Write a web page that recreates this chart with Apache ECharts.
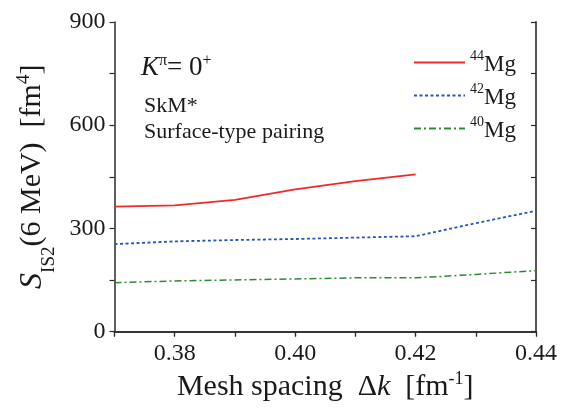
<!DOCTYPE html>
<html>
<head>
<meta charset="utf-8">
<script src="https://cdn.jsdelivr.net/npm/echarts@6/dist/echarts.min.js"></script>
<style>
  html, body { margin: 0; padding: 0; background: #fff; }
  #chart { width: 566px; height: 411px; }
</style>
</head>
<body>
<div id="chart"></div>
<script>
// Mesh spacing Δk [fm^-1]
var meshSpacing = [0.37, 0.38, 0.39, 0.40, 0.41, 0.42, 0.43, 0.44];
// S_IS2(6 MeV) [fm^4] for each nucleus
var mg44 = [363, 367, 383, 413, 437, 457];
var mg42 = [254, 262, 266, 269, 273, 277, 315, 351];
var mg40 = [142, 147, 150, 153, 156, 156, 166, 177];
var seriesNames = ['44Mg', '42Mg', '40Mg'];
var massNumbers = ['44', '42', '40'];

var FONT = '"Liberation Serif", "DejaVu Serif", serif';
var AXIS = '#2a2a2a';

function pairs(vals) {
  return vals.map(function (v, i) { return [meshSpacing[i], v]; });
}

var chart = echarts.init(document.getElementById('chart'), null, { renderer: 'canvas' });

var option = {
  backgroundColor: '#fff',
  animation: false,
  grid: { left: 114.5, right: 30, top: 22, bottom: 79.5, containLabel: false, outerBoundsMode: 'none' },
  legend: {
    orient: 'vertical',
    left: 408,
    top: 44,
    itemWidth: 51,
    itemHeight: 14,
    itemGap: 6,
    data: seriesNames,
    itemStyle: { opacity: 0, borderWidth: 0 },
    formatter: function (name) {
      var idx = seriesNames.indexOf(name);
      return '{sup|' + massNumbers[idx] + '}{t|Mg}';
    },
    textStyle: {
      fontFamily: FONT,
      color: '#1a1a1a',
      rich: {
        sup: { fontFamily: FONT, fontSize: 14, verticalAlign: 'top', lineHeight: 26 },
        t: { fontFamily: FONT, fontSize: 23, lineHeight: 26, padding: [4, 0, 0, 0] }
      }
    }
  },
  xAxis: [{
    type: 'value',
    min: 0.37,
    max: 0.44,
    interval: 0.01,
    splitLine: { show: false },
    axisLine: { show: true, lineStyle: { color: AXIS, width: 1.5 } },
    axisTick: { show: true, inside: false, length: 5, lineStyle: { color: AXIS, width: 1.2 } },
    axisLabel: {
      fontFamily: FONT, fontSize: 24, color: '#1a1a1a', margin: 10,
      formatter: function (v) {
        var k = Math.round(v * 100);
        return (k % 2 === 0) ? (k / 100).toFixed(2) : '';
      }
    },
    name: 'Mesh spacing  Δ{i|k}  [fm{sup|-1}]',
    nameLocation: 'middle',
    nameGap: 38,
    nameTextStyle: {
      fontFamily: FONT, fontSize: 30, color: '#1a1a1a',
      rich: {
        i: { fontFamily: FONT, fontSize: 30, fontStyle: 'italic', lineHeight: 34 },
        sup: { fontFamily: FONT, fontSize: 18, verticalAlign: 'top', lineHeight: 34 }
      }
    }
  }, {
    type: 'value',
    position: 'top',
    min: 0.37,
    max: 0.44,
    interval: 0.01,
    splitLine: { show: false },
    axisLine: { show: true, lineStyle: { color: AXIS, width: 1.5 } },
    axisTick: { show: true, inside: true, length: 5, lineStyle: { color: AXIS, width: 1.2 } },
    axisLabel: { show: false }
  }],
  yAxis: [{
    type: 'value',
    min: 0,
    max: 900,
    interval: 150,
    splitLine: { show: false },
    axisLine: { show: true, lineStyle: { color: AXIS, width: 1.5 } },
    axisTick: { show: true, inside: false, length: 5, lineStyle: { color: AXIS, width: 1.2 } },
    axisLabel: {
      fontFamily: FONT, fontSize: 24, color: '#1a1a1a', margin: 9,
      formatter: function (v) { return (Math.round(v) % 300 === 0) ? String(Math.round(v)) : ''; }
    },
    name: '{i|S}{sub|IS2}(6 MeV)  [fm{sup|4}]',
    nameLocation: 'middle',
    nameGap: 63,
    nameTextStyle: {
      fontFamily: FONT, fontSize: 30, color: '#1a1a1a',
      rich: {
        i: { fontFamily: FONT, fontSize: 32, fontStyle: 'italic', lineHeight: 36 },
        sub: { fontFamily: FONT, fontSize: 19, verticalAlign: 'bottom', lineHeight: 36, padding: [0, 0, -8, 0] },
        sup: { fontFamily: FONT, fontSize: 19, verticalAlign: 'top', lineHeight: 36 }
      }
    }
  }, {
    type: 'value',
    position: 'right',
    min: 0,
    max: 900,
    interval: 150,
    splitLine: { show: false },
    axisLine: { show: true, lineStyle: { color: '#555', width: 2 } },
    axisTick: { show: true, inside: true, length: 5, lineStyle: { color: AXIS, width: 1.2 } },
    axisLabel: { show: false }
  }],
  graphic: [{
    type: 'text',
    left: 141,
    top: 53,
    style: {
      text: '{k|K}{sup|π}{t|= 0}{sup|+}',
      fontFamily: FONT,
      fill: '#1a1a1a',
      rich: {
        k: { fontFamily: FONT, fontSize: 27, fontStyle: 'italic', lineHeight: 30 },
        t: { fontFamily: FONT, fontSize: 27, lineHeight: 30 },
        sup: { fontFamily: FONT, fontSize: 16, verticalAlign: 'top', lineHeight: 30 }
      }
    }
  }, {
    type: 'text',
    left: 144,
    top: 95,
    style: { text: 'SkM*', fontFamily: FONT, fontSize: 22, fill: '#1a1a1a' }
  }, {
    type: 'text',
    left: 144,
    top: 121,
    style: { text: 'Surface-type pairing', fontFamily: FONT, fontSize: 22, fill: '#1a1a1a' }
  }],
  series: [{
    name: '44Mg',
    type: 'line',
    symbol: 'none',
    data: pairs(mg44),
    lineStyle: { color: '#f02a2a', width: 1.8, type: 'solid' },
    itemStyle: { color: '#f02a2a' }
  }, {
    name: '42Mg',
    type: 'line',
    symbol: 'none',
    data: pairs(mg42),
    lineStyle: { color: '#2556bb', width: 1.8, type: [3, 2.5] },
    itemStyle: { color: '#2556bb' }
  }, {
    name: '40Mg',
    type: 'line',
    symbol: 'none',
    data: pairs(mg40),
    lineStyle: { color: '#2e8b35', width: 1.5, type: [7, 3, 2, 3] },
    itemStyle: { color: '#2e8b35' }
  }]
};

chart.setOption(option);
</script>
</body>
</html>
